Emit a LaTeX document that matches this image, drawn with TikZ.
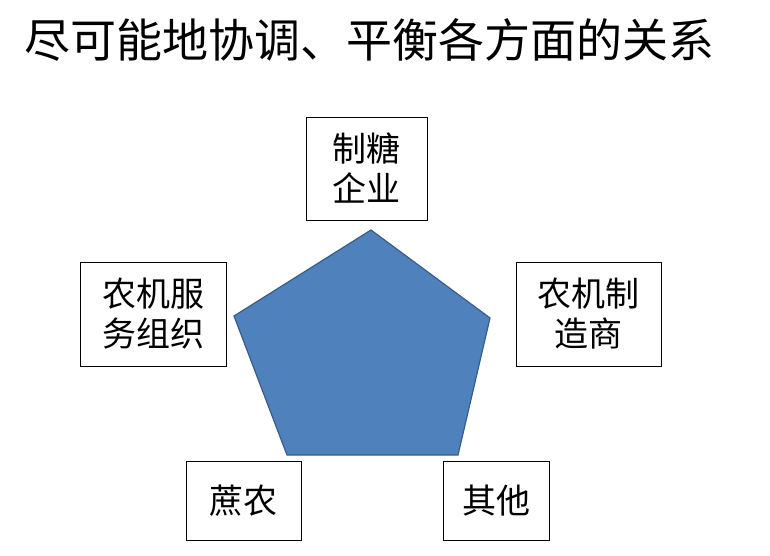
\documentclass[tikz,border=0pt]{standalone}
\usepackage{fontspec}
\setmainfont{Noto Sans CJK SC}
\newfontfamily\cjk{Noto Sans CJK SC}
\usetikzlibrary{positioning}
\definecolor{pentfill}{HTML}{4F81BD}
\definecolor{pentline}{HTML}{385D8A}
\begin{document}
\begin{tikzpicture}[x=1pt,y=-1pt,
partybox/.style={draw,thick,rectangle,inner sep=0pt,align=center,
  font=\fontsize{34}{40}\selectfont\cjk}]
\useasboundingbox (0,0) rectangle (770,556);
\node (title) [anchor=west,inner sep=0pt,font=\fontsize{46}{50}\selectfont\cjk] at (24,40) {尽可能地协调、平衡各方面的关系};
% pentagon
\filldraw[fill=pentfill,draw=pentline,line width=1.2pt]
  (371,230) -- (490,318) -- (458,455) -- (287,455) -- (234,316) -- cycle;
% parties
\node (sugar) [partybox,minimum width=121pt,minimum height=103pt] at (366.5,168.5) {制糖\\企业};
\node (maker) [partybox,minimum width=145pt,minimum height=104pt] at (588.5,314) {农机制\\造商};
\node (service) [partybox,minimum width=146pt,minimum height=104pt] at (153,314) {农机服\\务组织};
\node (farmer) [partybox,minimum width=115pt,minimum height=79pt] at (243.5,500.5) {蔗农};
\node (other) [partybox,minimum width=106pt,minimum height=79pt] at (496,500.5) {其他};
\end{tikzpicture}
\end{document}
